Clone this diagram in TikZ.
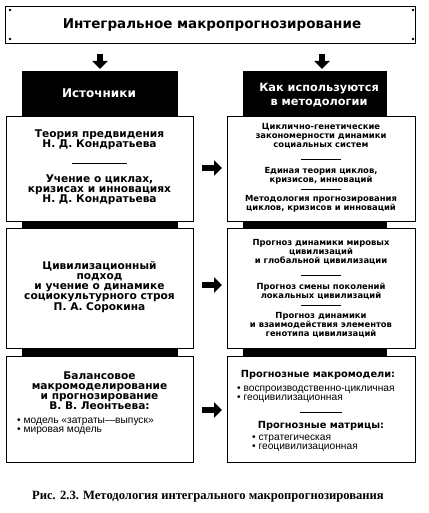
\documentclass[tikz,border=0pt]{standalone}
\usepackage{fontspec}
\setmainfont{Liberation Serif}
\setsansfont{DejaVu Sans}
\newfontfamily\lsans{Liberation Sans}
\usetikzlibrary{arrows.meta}
\tikzset{
  wbox/.style={draw=black, line width=0.8pt, fill=white, minimum width=188pt, inner sep=0pt},
  blk/.style={fill=black, draw=none},
  ttl/.style={font=\sffamily\bfseries\fontsize{10.6}{10}\selectfont, align=center, inner sep=0pt},
  rtl/.style={font=\sffamily\bfseries\fontsize{8.4}{9.3}\selectfont, align=center, inner sep=0pt},
  bul/.style={font=\lsans\fontsize{10.2}{8.8}\selectfont, align=left, anchor=west, inner sep=0pt},
  hdr/.style={font=\sffamily\bfseries\fontsize{12}{13.5}\selectfont, text=white, align=center, inner sep=0pt},
  sub/.style={font=\sffamily\bfseries\fontsize{9.8}{12}\selectfont, inner sep=0pt},
  sep/.style={line width=0.8pt},
  barrow/.style={line width=6pt, -{Triangle[width=15pt,length=8pt]}},
}
\begin{document}
\begin{tikzpicture}[x=1pt,y=-1pt]
\useasboundingbox (0,0) rectangle (428,513);
% top box
\node[draw=black, line width=0.8pt, minimum width=410pt, minimum height=37pt, inner sep=0pt] (top) at (210,24.5) {};
\node[font=\sffamily\bfseries\fontsize{13.5}{14}\selectfont, inner sep=0pt] (toptxt) at (212,25) {Интегральное макропрогнозирование};
\foreach \p in {(10,10),(413,10),(10,39),(413,39)} \fill \p circle (1.3);
% black columns
\node[blk, minimum width=156pt, minimum height=390pt, inner sep=0pt] (colL) at (100,266) {};
\node[blk, minimum width=144pt, minimum height=390pt, inner sep=0pt] (colR) at (315,266) {};
\node[hdr] (hL) at (99,93) {Источники};
\node[hdr, font=\sffamily\bfseries\fontsize{11.3}{13.5}\selectfont] (hR) at (319,95) {Как используются\\в методологии};
% down arrows
\coordinate (d1s) at (100,54); \coordinate (d1e) at (100,69);
\coordinate (d2s) at (322,54); \coordinate (d2e) at (322,69);
\draw[barrow] (d1s) -- (d1e);
\draw[barrow] (d2s) -- (d2e);
% left boxes
\node[wbox, minimum width=187pt, minimum height=105pt] (L1) at (99.5,168.5) {};
\node[wbox, minimum width=187pt, minimum height=120pt] (L2) at (99.5,288) {};
\node[wbox, minimum width=187pt, minimum height=106pt] (L3) at (99.5,409) {};
% right boxes
\node[wbox, minimum height=105pt] (R1) at (321,168.5) {};
\node[wbox, minimum height=120pt] (R2) at (321,288) {};
\node[wbox, minimum height=106pt] (R3) at (321,409) {};
% right arrows
\coordinate (r1s) at (202,168); \coordinate (r1e) at (222,168);
\coordinate (r2s) at (202,285); \coordinate (r2e) at (222,285);
\coordinate (r3s) at (202,410); \coordinate (r3e) at (222,410);
\draw[barrow] (r1s) -- (r1e);
\draw[barrow] (r2s) -- (r2e);
\draw[barrow] (r3s) -- (r3e);
% left texts
\node[ttl] (l1a) at (99.5,139.5) {Теория предвидения\\Н. Д. Кондратьева};
\draw[sep] (72,163) -- (127,163);
\node[ttl] (l1b) at (99.5,190) {Учение о циклах,\\кризисах и инновациях\\Н. Д. Кондратьева};
\node[ttl] (l2) at (99.5,287) {Цивилизационный\\подход\\и учение о динамике\\социокультурного строя\\П. А. Сорокина};
\node[ttl] (l3) at (99.5,391) {Балансовое\\макромоделирование\\и прогнозирование\\В. В. Леонтьева:};
\node[bul] (l3b) at (17,426) {• модель «затраты—выпуск»\\• мировая модель};
% right texts
\node[rtl] (r1a) at (321,136) {Циклично-генетические\\закономерности динамики\\социальных систем};
\draw[sep] (301,159) -- (341,159);
\node[rtl] (r1b) at (321,176) {Единая теория циклов,\\кризисов, инноваций};
\draw[sep] (301,189) -- (341,189);
\node[rtl] (r1c) at (321,204) {Методология прогнозирования\\циклов, кризисов и инноваций};
\node[rtl] (r2a) at (321,252) {Прогноз динамики мировых\\цивилизаций\\и глобальной цивилизации};
\draw[sep] (301,275) -- (341,275);
\node[rtl] (r2b) at (321,291.5) {Прогноз смены поколений\\локальных цивилизаций};
\draw[sep] (301,305) -- (341,305);
\node[rtl] (r2c) at (321,325) {Прогноз динамики\\и взаимодействия элементов\\генотипа цивилизаций};
\node[sub] (r3a) at (318,375) {Прогнозные макромодели:};
\node[bul] (r3b) at (237,394) {• воспроизводственно-цикличная\\• геоцивилизационная};
\draw[sep] (300,412) -- (342,412);
\node[sub] (r3c) at (321,426) {Прогнозные матрицы:};
\node[bul] (r3d) at (252,443.5) {• стратегическая\\• геоцивилизационная};
% caption
\node[font=\bfseries\fontsize{12.6}{13}\selectfont, inner sep=0pt] (cap) at (208,497) {Рис. 2.3. Методология интегрального макропрогнозирования};
\end{tikzpicture}
\end{document}
